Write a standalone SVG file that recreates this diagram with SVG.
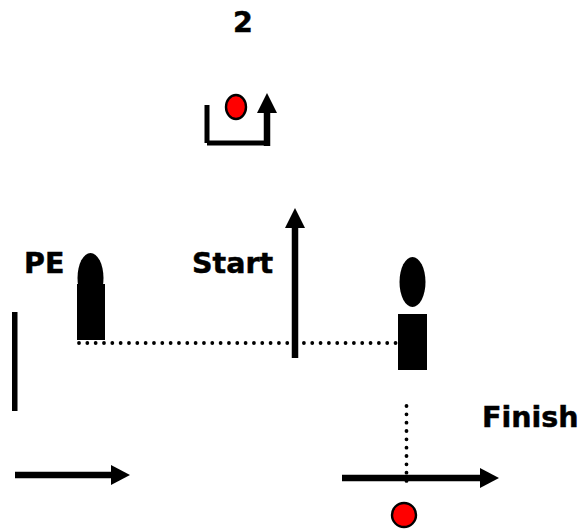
<svg xmlns="http://www.w3.org/2000/svg" width="580" height="530" viewBox="0 0 580 530">
<style>
text{font-family:"DejaVu Sans",Verdana,sans-serif;font-weight:700;font-size:28.500px;fill:#000;stroke:#000;stroke-width:.5px}
.ln{stroke:#000;stroke-width:6.500;fill:none}
.thin{stroke:#000;stroke-width:5;fill:none}
.dot{stroke:#000;stroke-width:3.800;stroke-linecap:round;stroke-dasharray:0 8.330;fill:none}
.ball{fill:#f00;stroke:#000;stroke-width:2.400}
</style>
<rect width="580" height="530" fill="#fff"/>
<g id="connectors">
<path class="dot" d="M79 343H398"/>
<path class="dot" d="M406.500 406V482"/>
<path class="ln" d="M295 358V225"/><polygon points="295,208 305,228 285,228"/>
<path class="ln" d="M342 478H482"/><polygon points="499,478 480,468 480,488"/>
<path class="ln" d="M15 475H113"/><polygon points="130,475 111,465 111,485"/>
<path class="thin" d="M207 105V143M207 143H267"/><path class="ln" d="M267 146V111"/><polygon points="267,93 277,113 257,113"/>
<rect x="12" y="312" width="5.500" height="99"/>
</g>
<g id="label-2"><text x="233" y="32">2</text></g>
<g id="label-pe"><text x="24" y="273">PE</text></g>
<g id="label-start"><text x="192" y="273">Start</text></g>
<g id="label-finish"><text x="482" y="427">Finish</text></g>
<g id="ball-top"><ellipse class="ball" cx="236" cy="107" rx="10" ry="12"/></g>
<g id="ball-bottom"><circle class="ball" cx="404" cy="515" r="12"/></g>
<g id="person-left"><ellipse cx="90.500" cy="278" rx="13" ry="25"/><rect x="77" y="284" width="28" height="56"/></g>
<g id="person-right"><ellipse cx="412.500" cy="282" rx="13" ry="25"/><rect x="398" y="314" width="29" height="56"/></g>
</svg>
